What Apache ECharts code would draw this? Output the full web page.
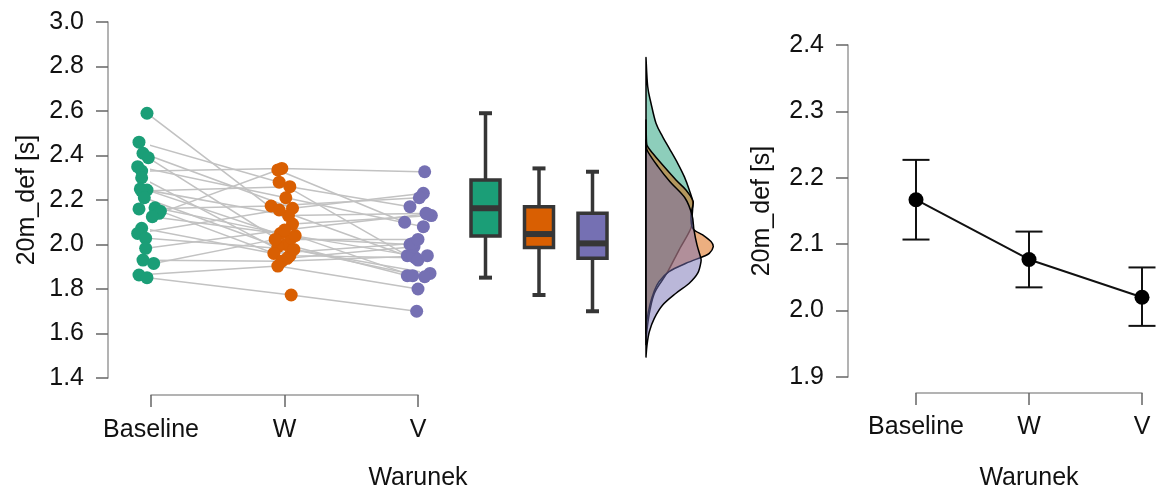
<!DOCTYPE html>
<html>
<head>
<meta charset="utf-8">
<script src="https://cdn.jsdelivr.net/npm/echarts@6/dist/echarts.min.js"></script>
<style>html,body{margin:0;padding:0;background:#fff}#c{width:1157px;height:489px}</style>
</head>
<body>
<div id="c"></div>
<script>
// ---------- data ----------
const conditions = ['Baseline', 'W', 'V'];
const xAxisTitle = 'Warunek';
const yAxisTitle = '20m_def [s]';

// per-subject values (index = subject)
const baselineValues = [2.59, 2.46, 2.41, 2.39, 2.35, 2.33, 2.30, 2.25, 2.245, 2.24, 2.21, 2.165, 2.16, 2.15, 2.14, 2.125, 2.073, 2.05, 2.028, 1.983, 1.93, 1.915, 1.863, 1.851];
const wValues        = [2.092, 2.28, 2.163, 2.0, 2.21, 2.342, 1.95, 2.13, 2.028, 2.26, 1.99, 2.05, 2.173, 1.938, 2.335, 2.04, 1.96, 2.155, 1.978, 2.065, 1.925, 2.023, 1.903, 1.773];
const vValues        = [2.13, 1.95, 2.23, 1.86, 2.08, 2.327, 1.94, 2.14, 2.0, 2.17, 1.87, 1.95, 2.21, 1.99, 2.10, 1.86, 2.005, 1.93, 1.855, 2.137, 1.95, 2.023, 1.80, 1.70];
// horizontal jitter of each point (in condition units)
const jitterBaseline = [-0.03, -0.09, -0.06, -0.02, -0.10, -0.07, -0.07, -0.08, -0.03, -0.07, -0.05, 0.03, -0.09, 0.07, 0.06, 0.01, -0.07, -0.10, -0.04, -0.04, -0.06, 0.02, -0.09, -0.03];
const jitterW        = [0.06, -0.04, 0.06, 0.01, 0.01, -0.02, 0.04, 0.03, 0.05, 0.04, -0.05, -0.03, -0.10, 0.02, -0.05, 0.08, -0.08, -0.04, 0.07, 0.0, -0.02, -0.07, -0.05, 0.05];
const jitterV        = [0.10, -0.08, 0.04, -0.08, 0.04, 0.05, -0.02, 0.06, -0.06, -0.06, 0.09, -0.04, 0.01, -0.03, -0.10, -0.04, -0.04, 0.0, 0.05, 0.07, 0.07, 0.0, 0.0, -0.01];

// boxplot stats: [min, Q1, median, Q3, max]
const boxBaseline = [1.851, 2.038, 2.163, 2.29, 2.59];
const boxW        = [1.773, 1.987, 2.047, 2.17, 2.342];
const boxV        = [1.70, 1.938, 2.005, 2.14, 2.327];

// density curves: [value, relative density]
const densityBaseline = [[2.84,0],[2.71,0.17],[2.635,0.5],[2.545,1.0],[2.484,1.67],[2.432,2.33],[2.365,3.17],[2.305,3.83],[2.245,4.33],[2.192,4.67],[2.133,4.62],[2.074,4.5],[1.975,3.3],[1.872,2.1],[1.787,0.9],[1.706,0.4],[1.616,0.1],[1.55,0]];
const densityW        = [[2.56,0],[2.462,0.05],[2.44,0.17],[2.41,0.67],[2.357,1.67],[2.29,3.0],[2.245,4.0],[2.2,4.67],[2.178,4.7],[2.133,4.5],[2.073,4.67],[2.043,5.67],[2.013,6.5],[1.99,6.73],[1.96,6.33],[1.945,5.67],[1.9155,4.0],[1.878,2.3],[1.833,1.3],[1.788,0.8],[1.73,0.4],[1.66,0.1],[1.6,0]];
const densityV        = [[2.47,0],[2.425,0.1],[2.35,1.2],[2.282,2.4],[2.209,3.9],[2.133,4.6],[2.065,4.8],[1.998,5.1],[1.944,5.45],[1.923,5.5],[1.871,5.17],[1.826,4.33],[1.781,3.0],[1.728,1.67],[1.668,0.83],[1.608,0.33],[1.548,0.1],[1.494,0]];

// means with 95% CI
const meanValues = [2.167, 2.077, 2.020];
const ciLower    = [2.107, 2.035, 1.977];
const ciUpper    = [2.227, 2.119, 2.065];

// ---------- styling ----------
const colors = ['#1B9E77', '#D95F02', '#7570B3'];
const densityFill = ['rgba(27,158,119,0.5)', 'rgba(217,95,2,0.5)', 'rgba(117,112,179,0.5)'];
const FONT = '"Liberation Sans", Arial, Helvetica, sans-serif';
const FS = 25;
const TXT = '#111';
const axisLine = {show: true, onZero: false, lineStyle: {color: '#9a9a9a', width: 1.5}};
const axisTick = {show: true, inside: false, length: 12, lineStyle: {color: '#666', width: 1.5}};

const chart = echarts.init(document.getElementById('c'), null, {renderer: 'canvas', width: 1157, height: 489});

const subjects = [baselineValues, wValues, vValues];
const jitters = [jitterBaseline, jitterW, jitterV];
const nSub = baselineValues.length;

const series = [];
// connecting lines
for (let i = 0; i < nSub; i++) {
  series.push({
    type: 'line', xAxisIndex: 0, yAxisIndex: 0, silent: true, clip: false,
    symbol: 'none', z: 2,
    lineStyle: {color: '#c2c2c2', width: 1.5},
    data: subjects.map((arr, g) => [g + jitters[g][i], arr[i]])
  });
}
// points
subjects.forEach((arr, g) => {
  series.push({
    type: 'scatter', xAxisIndex: 0, yAxisIndex: 0, clip: false, z: 3,
    symbol: 'circle', symbolSize: 13,
    itemStyle: {color: colors[g], opacity: 1},
    data: arr.map((v, i) => [g + jitters[g][i], v])
  });
});

// boxplots
series.push({
  type: 'custom', xAxisIndex: 1, yAxisIndex: 1, clip: false, z: 3,
  encode: {x: 0, y: [1, 2, 3, 4, 5]},
  data: [boxBaseline, boxW, boxV].map((b, i) => [i].concat(b)),
  renderItem: function (params, api) {
    const i = api.value(0);
    const x = api.coord([i, api.value(3)])[0];
    const yMin = api.coord([i, api.value(1)])[1];
    const yQ1 = api.coord([i, api.value(2)])[1];
    const yMed = api.coord([i, api.value(3)])[1];
    const yQ3 = api.coord([i, api.value(4)])[1];
    const yMax = api.coord([i, api.value(5)])[1];
    const bw = 29, cw = 13, stroke = '#363636';
    return {type: 'group', children: [
      {type: 'line', shape: {x1: x, y1: yMax, x2: x, y2: yMin}, style: {stroke: stroke, lineWidth: 3.5}},
      {type: 'line', shape: {x1: x - cw / 2, y1: yMax, x2: x + cw / 2, y2: yMax}, style: {stroke: stroke, lineWidth: 4}},
      {type: 'line', shape: {x1: x - cw / 2, y1: yMin, x2: x + cw / 2, y2: yMin}, style: {stroke: stroke, lineWidth: 4}},
      {type: 'rect', shape: {x: x - bw / 2, y: yQ3, width: bw, height: yQ1 - yQ3}, style: {fill: colors[i], stroke: stroke, lineWidth: 3.5}},
      {type: 'line', shape: {x1: x - bw / 2 + 1, y1: yMed, x2: x + bw / 2 - 1, y2: yMed}, style: {stroke: stroke, lineWidth: 6}}
    ]};
  }
});

// densities
function densityPath(points, api) {
  const px = points.map(p => api.coord([p[1], p[0]]));
  let d = 'M' + px[0][0] + ',' + px[0][1];
  for (let k = 0; k < px.length - 1; k++) {
    const p0 = px[k - 1] || px[k], p1 = px[k], p2 = px[k + 1], p3 = px[k + 2] || px[k + 1];
    const c1x = p1[0] + (p2[0] - p0[0]) / 6, c1y = p1[1] + (p2[1] - p0[1]) / 6;
    const c2x = p2[0] - (p3[0] - p1[0]) / 6, c2y = p2[1] - (p3[1] - p1[1]) / 6;
    d += ' C' + c1x + ',' + c1y + ' ' + c2x + ',' + c2y + ' ' + p2[0] + ',' + p2[1];
  }
  return d + ' Z';
}
[densityBaseline, densityW, densityV].forEach((dens, g) => {
  series.push({
    type: 'custom', xAxisIndex: 2, yAxisIndex: 2, clip: false, z: 3 + g * 0.01,
    encode: {x: 1, y: 0},
    data: dens,
    renderItem: function (params, api) {
      if (params.dataIndex !== 0) return null;
      return {type: 'path', shape: {pathData: densityPath(dens, api)},
        style: {fill: densityFill[g], stroke: '#000', lineWidth: 1.5, lineJoin: 'round'}};
    }
  });
});

// right panel: error bars
series.push({
  type: 'custom', xAxisIndex: 3, yAxisIndex: 3, clip: false, z: 3,
  encode: {x: 0, y: [1, 2]},
  data: conditions.map((c, i) => [i, ciLower[i], ciUpper[i]]),
  renderItem: function (params, api) {
    const i = api.value(0);
    const lo = api.coord([i, api.value(1)]);
    const hi = api.coord([i, api.value(2)]);
    const hw = 13.5;
    const st = {stroke: '#111', lineWidth: 2};
    return {type: 'group', children: [
      {type: 'line', shape: {x1: lo[0], y1: lo[1], x2: hi[0], y2: hi[1]}, style: st},
      {type: 'line', shape: {x1: lo[0] - hw, y1: lo[1], x2: lo[0] + hw, y2: lo[1]}, style: st},
      {type: 'line', shape: {x1: hi[0] - hw, y1: hi[1], x2: hi[0] + hw, y2: hi[1]}, style: st}
    ]};
  }
});
series.push({
  type: 'line', xAxisIndex: 3, yAxisIndex: 3, clip: false, z: 4,
  symbol: 'circle', symbolSize: 15,
  itemStyle: {color: '#000'},
  lineStyle: {color: '#111', width: 2},
  data: meanValues
});

const hidden = {show: false};
const option = {
  animation: false,
  backgroundColor: '#fff',
  textStyle: {fontFamily: FONT},
  grid: [
    {left: 151, top: 22, width: 267, height: 356, outerBoundsMode: 'none', containLabel: false},
    {left: 458.75, top: 22, width: 160.5, height: 356, outerBoundsMode: 'none', containLabel: false},
    {left: 646, top: 22, width: 80, height: 356, outerBoundsMode: 'none', containLabel: false},
    {left: 916, top: 45, width: 226, height: 332, outerBoundsMode: 'none', containLabel: false}
  ],
  xAxis: [
    {gridIndex: 0, type: 'value', min: 0, max: 2, interval: 1, offset: 17,
      axisLine: axisLine, axisTick: axisTick, splitLine: hidden,
      axisLabel: {margin: 23, color: TXT, fontSize: FS, fontFamily: FONT, formatter: v => conditions[v] || ''}},
    {gridIndex: 1, type: 'category', data: conditions, show: false},
    {gridIndex: 2, type: 'value', min: 0, max: 8, show: false},
    {gridIndex: 3, type: 'category', data: conditions, boundaryGap: false, offset: 16,
      axisLine: axisLine, axisTick: Object.assign({alignWithLabel: true}, axisTick), splitLine: hidden,
      axisLabel: {margin: 22, color: TXT, fontSize: FS, fontFamily: FONT, interval: 0},
      name: xAxisTitle, nameLocation: 'middle', nameGap: 73,
      nameTextStyle: {color: TXT, fontSize: FS, fontFamily: FONT}}
  ],
  yAxis: [
    {gridIndex: 0, type: 'value', min: 1.4, max: 3.0, interval: 0.2, offset: 43,
      axisLine: axisLine, axisTick: axisTick, splitLine: hidden,
      axisLabel: {margin: 24, color: TXT, fontSize: FS, fontFamily: FONT, formatter: v => v.toFixed(1)},
      name: yAxisTitle, nameLocation: 'middle', nameGap: 68, nameRotate: 90,
      nameTextStyle: {color: TXT, fontSize: FS, fontFamily: FONT}},
    {gridIndex: 1, type: 'value', min: 1.4, max: 3.0, show: false},
    {gridIndex: 2, type: 'value', min: 1.4, max: 3.0, show: false},
    {gridIndex: 3, type: 'value', min: 1.9, max: 2.4, interval: 0.1, offset: 68,
      axisLine: axisLine, axisTick: axisTick, splitLine: hidden,
      axisLabel: {margin: 24, color: TXT, fontSize: FS, fontFamily: FONT, formatter: v => v.toFixed(1)},
      name: yAxisTitle, nameLocation: 'middle', nameGap: 73, nameRotate: 90,
      nameTextStyle: {color: TXT, fontSize: FS, fontFamily: FONT}}
  ],
  graphic: [
    {type: 'text', x: 418, y: 478, silent: true,
      style: {text: xAxisTitle, fill: TXT, fontSize: FS, fontFamily: FONT, align: 'center', verticalAlign: 'middle'}}
  ],
  series: series
};
chart.setOption(option);
</script>
</body>
</html>
